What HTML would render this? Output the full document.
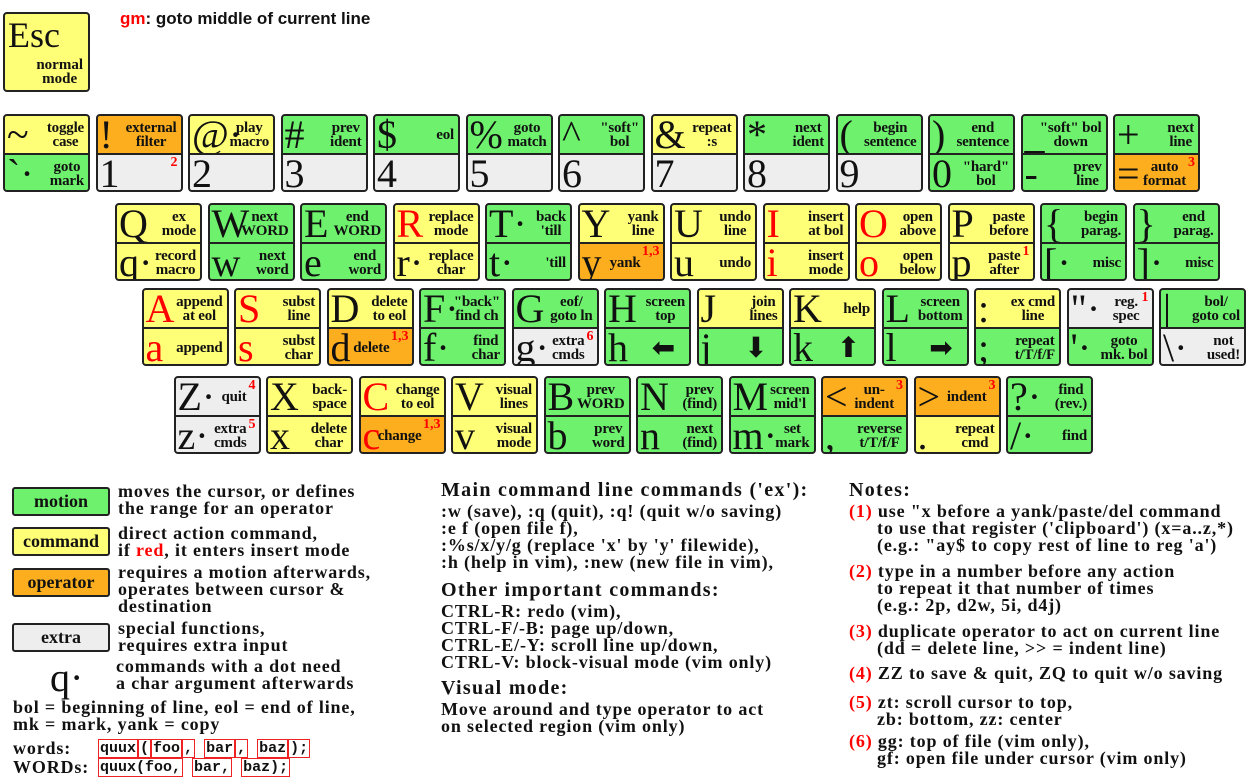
<!DOCTYPE html>
<html><head><meta charset="utf-8">
<style>
body{margin:0;width:1250px;height:780px;background:#fff;position:relative;overflow:hidden;font-family:"Liberation Serif",serif;color:#111}
.key{position:absolute;width:87px;height:78px;border:2px solid #222;border-radius:4px;box-sizing:border-box;overflow:hidden;background:#222}
.half{position:absolute;left:0;width:83px;height:37px;overflow:hidden}
.top{top:0}.bot{top:39px}
.ch{position:absolute;left:2px;top:0;font-size:40px;line-height:38px;white-space:pre}
.lb{position:absolute;right:4px;top:50%;transform:translateY(-50%);text-align:center;font-weight:bold;font-size:15px;line-height:14px;letter-spacing:-0.2px;white-space:pre}
.sup{position:absolute;right:3px;top:1px;color:#f00;font-weight:bold;font-size:14px;line-height:14px}
.t{position:absolute;white-space:nowrap;font-weight:bold;font-size:18px;line-height:17px;letter-spacing:0.85px}
.h{font-size:20px;letter-spacing:1.3px}
.r{color:#f00}
.lg{position:absolute;left:12px;width:98px;height:29px;border:2px solid #222;border-radius:3px;box-sizing:border-box;text-align:center;font-weight:bold;font-size:18px;line-height:25px}
.cd{font-family:"Liberation Mono",monospace;font-weight:bold;font-size:15px;letter-spacing:0}
.cd span{border:1.5px solid #e22;padding:0 1px}
</style></head><body>
<div class="key" style="left:3px;top:12px;height:80px;background:#ffff77">
  <div style="position:absolute;left:3px;top:2px;font-size:36px;line-height:38px">Esc</div>
  <div style="position:absolute;right:5px;top:44px;font-weight:bold;font-size:15px;line-height:14px;text-align:center">normal<br>mode</div>
</div>
<div class="t" style="left:120px;top:10px;font-family:'Liberation Sans',sans-serif;font-size:17px;letter-spacing:0"><span class="r">gm</span>: goto middle of current line</div>
<div id="kb"></div>

<div class="lg" style="top:487px;background:#6ef26e">motion</div>
<div class="lg" style="top:527px;background:#ffff77">command</div>
<div class="lg" style="top:568px;background:#fcae1e">operator</div>
<div class="lg" style="top:623px;background:#eeeeee">extra</div>
<div class="t" style="left:50px;top:660px;font-weight:normal;font-size:40px;line-height:36px;letter-spacing:0">q·</div>
<div>
<div class="t" style="left:118px;top:483px">moves the cursor, or defines</div>
<div class="t" style="left:118px;top:500px">the range for an operator</div>
<div class="t" style="left:118px;top:525px">direct action command,</div>
<div class="t" style="left:118px;top:542px">if <span class="r">red</span>, it enters insert mode</div>
<div class="t" style="left:118px;top:564px">requires a motion afterwards,</div>
<div class="t" style="left:118px;top:581px">operates between cursor &amp;</div>
<div class="t" style="left:118px;top:598px">destination</div>
<div class="t" style="left:118px;top:620px">special functions,</div>
<div class="t" style="left:118px;top:637px">requires extra input</div>
<div class="t" style="left:116px;top:658px">commands with a dot need</div>
<div class="t" style="left:116px;top:675px">a char argument afterwards</div>
<div class="t" style="left:13px;top:699px">bol = beginning of line, eol = end of line,</div>
<div class="t" style="left:13px;top:716px">mk = mark, yank = copy</div>
<div class="t" style="left:13px;top:740px">words:</div>
<div class="t" style="left:13px;top:759px">WORDs:</div>
<div class="t cd" style="left:98px;top:740px"><span>quux</span><span>(</span><span>foo</span><span>,</span> <span>bar</span><span>,</span> <span>baz</span><span>);</span></div>
<div class="t cd" style="left:98px;top:759px"><span>quux(foo,</span> <span>bar,</span> <span>baz);</span></div>
</div>

<div>
<div class="t h" style="left:441px;top:482px">Main command line commands ('ex'):</div>
<div class="t" style="left:441px;top:503px">:w (save), :q (quit), :q! (quit w/o saving)</div>
<div class="t" style="left:441px;top:520px">:e f (open file f),</div>
<div class="t" style="left:441px;top:537px">:%s/x/y/g (replace 'x' by 'y' filewide),</div>
<div class="t" style="left:441px;top:554px">:h (help in vim), :new (new file in vim),</div>
<div class="t h" style="left:441px;top:582px">Other important commands:</div>
<div class="t" style="left:441px;top:603px">CTRL-R: redo (vim),</div>
<div class="t" style="left:441px;top:620px">CTRL-F/-B: page up/down,</div>
<div class="t" style="left:441px;top:637px">CTRL-E/-Y: scroll line up/down,</div>
<div class="t" style="left:441px;top:654px">CTRL-V: block-visual mode (vim only)</div>
<div class="t h" style="left:441px;top:680px">Visual mode:</div>
<div class="t" style="left:441px;top:701px">Move around and type operator to act</div>
<div class="t" style="left:441px;top:718px">on selected region (vim only)</div>
</div>

<div>
<div class="t h" style="left:849px;top:482px">Notes:</div>
<div class="t" style="left:849px;top:503px"><span class="r">(1)</span> use "x before a yank/paste/del command</div>
<div class="t" style="left:877px;top:520px">to use that register ('clipboard') (x=a..z,*)</div>
<div class="t" style="left:877px;top:537px">(e.g.: "ay$ to copy rest of line to reg 'a')</div>
<div class="t" style="left:849px;top:563px"><span class="r">(2)</span> type in a number before any action</div>
<div class="t" style="left:877px;top:580px">to repeat it that number of times</div>
<div class="t" style="left:877px;top:597px">(e.g.: 2p, d2w, 5i, d4j)</div>
<div class="t" style="left:849px;top:623px"><span class="r">(3)</span> duplicate operator to act on current line</div>
<div class="t" style="left:877px;top:640px">(dd = delete line, &gt;&gt; = indent line)</div>
<div class="t" style="left:849px;top:665px"><span class="r">(4)</span> ZZ to save &amp; quit, ZQ to quit w/o saving</div>
<div class="t" style="left:849px;top:694px"><span class="r">(5)</span> zt: scroll cursor to top,</div>
<div class="t" style="left:877px;top:711px">zb: bottom, zz: center</div>
<div class="t" style="left:849px;top:733px"><span class="r">(6)</span> gg: top of file (vim only),</div>
<div class="t" style="left:877px;top:750px">gf: open file under cursor (vim only)</div>
</div>

<script>
const COL={Y:'#ffff77',G:'#6ef26e',O:'#fcae1e',E:'#eeeeee'};
// each half: [char, label, color, redChar, sup]
const row1=[
[['~','toggle\ncase','Y'],['`·','goto\nmark','G']],
[['!','external\nfilter','O'],['1','','E',0,'2']],
[['@·','play\nmacro','Y'],['2','','E']],
[['#','prev\nident','G'],['3','','E']],
[['$','eol','G'],['4','','E']],
[['%','goto\nmatch','G'],['5','','E']],
[['^','"soft"\nbol','G'],['6','','E']],
[['&','repeat\n:s','Y'],['7','','E']],
[['*','next\nident','G'],['8','','E']],
[['(','begin\nsentence','G'],['9','','E']],
[[')','end\nsentence','G'],['0','"hard"\nbol','G']],
[['_','"soft" bol\ndown','G'],['-','prev\nline','G']],
[['+','next\nline','G'],['=','auto\nformat','O',0,'3']]];
const row2=[
[['Q','ex\nmode','Y'],['q·','record\nmacro','Y']],
[['W','next\nWORD','G'],['w','next\nword','G']],
[['E','end\nWORD','G'],['e','end\nword','G']],
[['R','replace\nmode','Y',1],['r·','replace\nchar','Y']],
[['T·','back\n\'till','G'],['t·','\'till','G']],
[['Y','yank\nline','Y'],['y','yank','O',0,'1,3']],
[['U','undo\nline','Y'],['u','undo','Y']],
[['I','insert\nat bol','Y',1],['i','insert\nmode','Y',1]],
[['O','open\nabove','Y',1],['o','open\nbelow','Y',1]],
[['P','paste\nbefore','Y'],['p','paste\nafter','Y',0,'1']],
[['{','begin\nparag.','G'],['[·','misc','G']],
[['}','end\nparag.','G'],[']·','misc','G']]];
const row3=[
[['A','append\nat eol','Y',1],['a','append','Y',1]],
[['S','subst\nline','Y',1],['s','subst\nchar','Y',1]],
[['D','delete\nto eol','Y'],['d','delete','O',0,'1,3']],
[['F·','"back"\nfind ch','G'],['f·','find\nchar','G']],
[['G','eof/\ngoto ln','G'],['g·','extra\ncmds','E',0,'6']],
[['H','screen\ntop','G'],['h','⬅','G']],
[['J','join\nlines','Y'],['j','⬇','G']],
[['K','help','Y'],['k','⬆','G']],
[['L','screen\nbottom','G'],['l','➡','G']],
[[':','ex cmd\nline','Y'],[';','repeat\nt/T/f/F','G']],
[['"·','reg.\nspec','E',0,'1'],['\'·','goto\nmk. bol','G']],
[['|','bol/\ngoto col','G'],['\\·','not\nused!','E']]];
const row4=[
[['Z·','quit','E',0,'4'],['z·','extra\ncmds','E',0,'5']],
[['X','back-\nspace','Y'],['x','delete\nchar','Y']],
[['C','change\nto eol','Y',1],['c','change','O',1,'1,3']],
[['V','visual\nlines','Y'],['v','visual\nmode','Y']],
[['B','prev\nWORD','G'],['b','prev\nword','G']],
[['N','prev\n(find)','G'],['n','next\n(find)','G']],
[['M','screen\nmid\'l','G'],['m·','set\nmark','G']],
[['<','un-\nindent','O',0,'3'],[',','reverse\nt/T/f/F','G']],
[['>','indent','O',0,'3'],['.','repeat\ncmd','Y']],
[['?·','find\n(rev.)','G'],['/·','find','G']]];
const rows=[[row1,3,114],[row2,115,203],[row3,141.5,288],[row4,173.5,376]];
const PITCH=92.5;
const kb=document.getElementById('kb');
function half(k,h,cls){
  const d=document.createElement('div');d.className='half '+cls;
  
  
  d.style.background=COL[h[2]];
  const c=document.createElement('span');c.className='ch';c.textContent=h[0];
  if(h[3])c.style.color='#f00';
  d.appendChild(c);
  const l=document.createElement('div');l.className='lb';
  const arrow=/[⬅⬇⬆➡]/.test(h[1]);
  if(arrow){l.style.fontSize='28px';l.style.lineHeight='30px';l.style.right='14px';l.style.fontWeight='normal';l.style.fontFamily='"DejaVu Sans",sans-serif';}
  if(h[4]){l.style.right=(h[4].length>1?22:12)+'px';}
  l.textContent=h[1];d.appendChild(l);
  if(h[4]){const s=document.createElement('span');s.className='sup';s.textContent=h[4];d.appendChild(s);}
  k.appendChild(d);
}
rows.forEach(([keys,x0,y0])=>{
  keys.forEach((kd,i)=>{
    const k=document.createElement('div');k.className='key';
    
    
    k.style.left=(x0+i*PITCH)+'px';k.style.top=y0+'px';
    half(k,kd[0],'top');half(k,kd[1],'bot');
    kb.appendChild(k);
  });
});
</script>
</body></html>
